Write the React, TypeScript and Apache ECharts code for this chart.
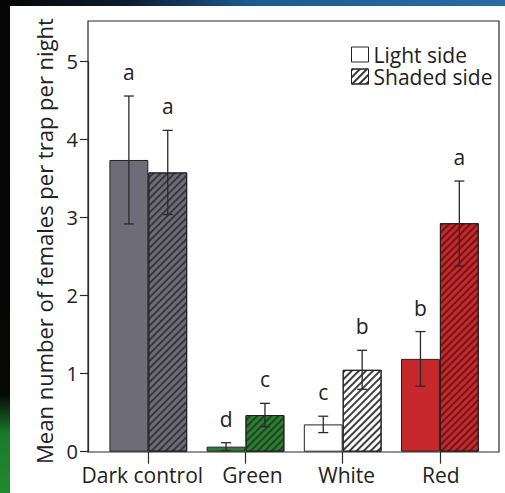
import React, { useEffect, useRef } from 'react';
import * as echarts from 'echarts';

const categories = ['Dark control', 'Green', 'White', 'Red'];
const lightMeans = [3.74, 0.065, 0.35, 1.19];
const lightLow = [2.92, 0.015, 0.245, 0.84];
const lightHigh = [4.56, 0.115, 0.455, 1.54];
const shadedMeans = [3.58, 0.47, 1.05, 2.93];
const shadedLow = [3.04, 0.32, 0.8, 2.38];
const shadedHigh = [4.12, 0.62, 1.3, 3.47];
const lightLetters = ['a', 'd', 'c', 'b'];
const shadedLetters = ['a', 'c', 'b', 'a'];
const seriesNames = ['Light side', 'Shaded side'];
const yTitle = 'Mean number of females per trap per night';

const barColors = ['#6e6c78', '#2f7d35', '#ffffff', '#c6282b'];
const hatchColors = ['rgba(0,0,0,0.5)', 'rgba(0,0,0,0.45)', 'rgba(0,0,0,0.75)', 'rgba(0,0,0,0.45)'];
const labelNudge = [-6, 7, 4, 1];
const FONT = '"Open Sans", "Noto Sans", sans-serif';
const INK = '#222';

const hatch = (c: string) => ({
  symbol: 'rect',
  symbolSize: 1,
  dashArrayX: [1, 0],
  dashArrayY: [1.5, 2.5],
  rotation: -Math.PI / 4,
  color: c,
});

const errRender = (low: number[], high: number[], letters: string[], side: number) =>
  (params: any, api: any) => {
    const cat = api.value(0);
    const pLo = api.coord([cat, api.value(1)]);
    const pHi = api.coord([cat, api.value(2)]);
    const band = api.size([1, 0])[0];
    const x = pLo[0] + side * band * 0.2;
    const st = { stroke: '#2a2a2a', lineWidth: 1.3 };
    return {
      type: 'group',
      children: [
        { type: 'line', shape: { x1: x, y1: pHi[1], x2: x, y2: pLo[1] }, style: st },
        { type: 'line', shape: { x1: x - 5, y1: pHi[1], x2: x + 5, y2: pHi[1] }, style: st },
        { type: 'line', shape: { x1: x - 5, y1: pLo[1], x2: x + 5, y2: pLo[1] }, style: st },
        {
          type: 'text',
          x,
          y: pHi[1] - 24,
          style: {
            text: letters[params.dataIndex],
            fill: INK,
            fontSize: 21,
            fontFamily: FONT,
            align: 'center',
            verticalAlign: 'middle',
          },
        },
      ],
    };
  };

export default function App() {
  const ref = useRef<HTMLDivElement>(null);
  useEffect(() => {
    const chart = echarts.init(ref.current!, null, { renderer: 'svg' });
    const option: any = {
      animation: false,
      backgroundColor: '#ffffff',
      graphic: [
        {
          type: 'rect',
          shape: { x: 0, y: 0, width: 505, height: 6 },
          style: {
            fill: {
              type: 'linear', x: 0, y: 0, x2: 1, y2: 0,
              colorStops: [
                { offset: 0, color: '#050608' },
                { offset: 0.25, color: '#0b1c2e' },
                { offset: 0.5, color: '#1d5a92' },
                { offset: 1, color: '#2a6ba4' },
              ],
            },
          },
          silent: true,
        },
        {
          type: 'rect',
          shape: { x: 0, y: 0, width: 10, height: 493 },
          style: {
            fill: {
              type: 'linear', x: 0, y: 0, x2: 0, y2: 1,
              colorStops: [
                { offset: 0, color: '#050505' },
                { offset: 0.8, color: '#060806' },
                { offset: 0.88, color: '#1b7a2a' },
                { offset: 1, color: '#1f8a30' },
              ],
            },
          },
          silent: true,
        },
      ],
      legend: {
        data: seriesNames,
        orient: 'vertical',
        left: 351,
        top: 44,
        padding: 0,
        itemGap: 1,
        itemWidth: 17,
        itemHeight: 15,
        icon: 'rect',
        textStyle: { fontSize: 21, fontFamily: FONT, color: INK, lineHeight: 21 },
        itemStyle: { borderColor: '#222', borderWidth: 1 },
      },
      grid: [
        { left: 88, top: 21, width: 411, height: 431, show: true, borderColor: '#2a2a2a', borderWidth: 1.2 },
        { left: 99.7, top: 61.7, width: 388.8, height: 390 },
      ],
      xAxis: [
        { gridIndex: 0, type: 'value', min: 0, max: 1, show: false },
        {
          gridIndex: 1,
          type: 'category',
          data: categories.map((c, i) => ({
            value: c,
            textStyle: {
              padding: labelNudge[i] < 0 ? [0, -2 * labelNudge[i], 0, 0] : [0, 0, 0, 2 * labelNudge[i]],
            },
          })),
          axisLine: { show: false },
          axisTick: { show: true, alignWithLabel: true, length: 12, lineStyle: { color: '#2a2a2a', width: 1.2 } },
          axisLabel: { interval: 0, fontSize: 21, fontFamily: FONT, color: INK, margin: 13 },
          splitLine: { show: false },
        },
      ],
      yAxis: [
        {
          gridIndex: 0,
          type: 'value',
          min: 0,
          max: 1,
          axisLine: { show: false },
          axisTick: { show: false },
          axisLabel: { show: false },
          splitLine: { show: false },
          name: yTitle,
          nameLocation: 'middle',
          nameGap: 33,
          nameTextStyle: { fontSize: 22, fontFamily: FONT, color: INK, padding: [0, 9, 0, 0] },
        },
        {
          gridIndex: 1,
          type: 'value',
          min: 0,
          max: 5,
          interval: 1,
          offset: 11.7,
          axisLine: { show: true, lineStyle: { color: '#2a2a2a', width: 1.2 } },
          axisTick: { show: true, length: 8, lineStyle: { color: '#2a2a2a', width: 1.2 } },
          axisLabel: { fontSize: 20, fontFamily: FONT, color: INK, margin: 10 },
          splitLine: { show: false },
        },
      ],
      series: [
        {
          name: seriesNames[0],
          type: 'bar',
          xAxisIndex: 1,
          yAxisIndex: 1,
          barWidth: '40%',
          barGap: '0%',
          itemStyle: { color: '#ffffff', borderColor: '#222', borderWidth: 1 },
          data: lightMeans.map((v, i) => ({ value: v, itemStyle: { color: barColors[i] } })),
        },
        {
          name: seriesNames[1],
          type: 'bar',
          xAxisIndex: 1,
          yAxisIndex: 1,
          barWidth: '40%',
          barGap: '0%',
          itemStyle: { color: '#ffffff', borderColor: '#222', borderWidth: 1, decal: hatch('#333') },
          data: shadedMeans.map((v, i) => ({
            value: v,
            itemStyle: { color: barColors[i], decal: hatch(hatchColors[i]) },
          })),
        },
        {
          name: 'Light error',
          type: 'custom',
          xAxisIndex: 1,
          yAxisIndex: 1,
          z: 5,
          encode: { x: 0, y: [1, 2] },
          renderItem: errRender(lightLow, lightHigh, lightLetters, -1),
          data: categories.map((_, i) => [i, lightLow[i], lightHigh[i]]),
        },
        {
          name: 'Shaded error',
          type: 'custom',
          xAxisIndex: 1,
          yAxisIndex: 1,
          z: 5,
          encode: { x: 0, y: [1, 2] },
          renderItem: errRender(shadedLow, shadedHigh, shadedLetters, 1),
          data: categories.map((_, i) => [i, shadedLow[i], shadedHigh[i]]),
        },
      ],
    };
    chart.setOption(option);
    return () => chart.dispose();
  }, []);
  return <div ref={ref} style={{ position: 'fixed', left: 0, top: 0, width: 505, height: 493 }} />;
}
